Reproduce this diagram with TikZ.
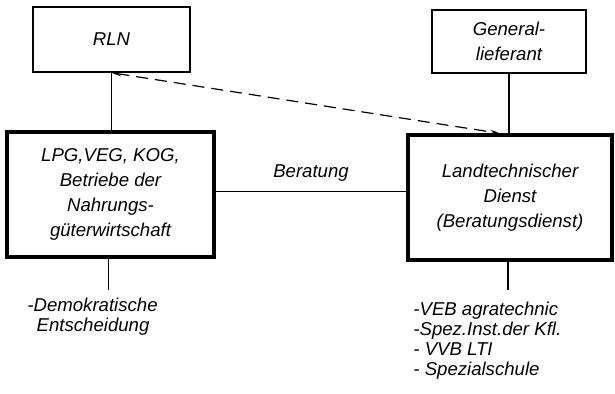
\documentclass[tikz,border=0pt]{standalone}
\usepackage{fontspec}
\setmainfont{Liberation Sans}
\usetikzlibrary{arrows.meta,calc}

\tikzset{
  thinbox/.style={draw,line width=0.75pt,align=center,inner sep=0pt},
  thickbox/.style={draw,line width=1.6pt,align=center,inner sep=0pt},
  conn/.style={line width=0.6pt},
  lst/.style={align=left,anchor=north west,inner sep=0pt,
    font=\itshape\fontsize{9.3}{9.9}\selectfont}
}

\begin{document}
\begin{tikzpicture}[x=0.5pt,y=-0.5pt,font=\itshape\fontsize{9.3}{12.5}\selectfont]
\useasboundingbox (0,0) rectangle (615,394);

% Upper boxes
\node[thinbox,minimum width=78.5pt,minimum height=32.5pt] (rln) at (111.5,39.5) {RLN};
\node[thinbox,minimum width=77pt,minimum height=31.5pt] (gen) at (509,41.5) {General-\\lieferant};

% Main boxes
\node[thickbox,minimum width=103.5pt,minimum height=62.5pt] (lpg) at (110.5,194.5)
  {LPG,VEG, KOG,\\Betriebe der\\Nahrungs-\\güterwirtschaft};
\node[thickbox,minimum width=102pt,minimum height=62.5pt] (ltd) at (510,197.5)
  {Landtechnischer\\Dienst\\(Beratungsdienst)};

% Lists below
\node[lst] (demo) at (27,298) {-Demokratische\\\phantom{-}\,Entscheidung};
\node[lst] (orgs) at (413,302) {-VEB agratechnic\\-Spez.Inst.der Kfl.\\- VVB LTI\\- Spezialschule};
\coordinate (demotop) at ($(lpg.south)+(-2,31)$);
\coordinate (orgstop) at ($(ltd.south)+(-2,28)$);

% Connections
\draw[conn] (rln.south) -- (rln.south |- lpg.north);
\draw[conn] (gen.south) -- (gen.south |- ltd.north);
\draw[conn] ([yshift=1.5pt]lpg.east) -- ([yshift=1.5pt]lpg.east -| ltd.west)
  node[midway,above=1.5pt] (ber) {Beratung};
\draw[conn,dash pattern=on 6pt off 3.5pt,{Stealth[length=5pt,width=2.2pt]}-{Stealth[length=5pt,width=2.2pt]}]
  (rln.south) -- ([xshift=-5pt]ltd.north);
\draw[conn] ([xshift=-1pt]lpg.south) -- (demotop);
\draw[conn] ([xshift=-1pt]ltd.south) -- (orgstop);
\end{tikzpicture}
\end{document}
